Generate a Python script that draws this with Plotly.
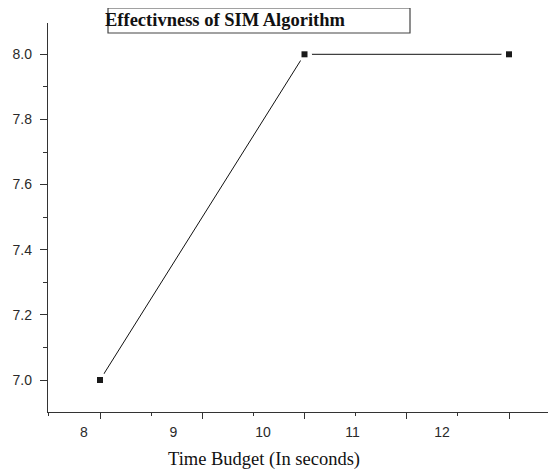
import plotly.graph_objects as go

# ---- data ----
x_vals = [8, 10, 12]
y_vals = [7.0, 8.0, 8.0]
x_tick_vals = [8, 9, 10, 11, 12]
x_tick_labels = ["8", "9", "10", "11", "12"]
title_text = "Effectivness of SIM Algorithm"
x_title = "Time Budget (In seconds)"

AX = "#333333"
TXT = "#2a2a2a"

fig = go.Figure()
fig.add_trace(go.Scatter(x=x_vals, y=y_vals, mode="lines",
                         line=dict(color="#111111", width=1),
                         hoverinfo="skip", showlegend=False))
fig.add_trace(go.Scatter(x=x_vals, y=y_vals, mode="markers",
                         marker=dict(symbol="circle", size=15, color="white"),
                         hoverinfo="skip", showlegend=False))
fig.add_trace(go.Scatter(x=x_vals, y=y_vals, mode="markers",
                         marker=dict(symbol="square", size=6, color="#1a1a1a"),
                         showlegend=False))
fig.add_trace(go.Scatter(x=[None], y=[None], xaxis="x2", yaxis="y",
                         showlegend=False, hoverinfo="skip"))

fig.update_layout(
    width=548, height=466,
    margin=dict(l=40, r=0, t=15, b=62, pad=0),
    paper_bgcolor="white", plot_bgcolor="white",
    showlegend=False,
    xaxis=dict(
        range=[7.4914, 12.4597],
        showline=True, linecolor=AX, linewidth=1.3,
        ticks="outside", tickvals=x_tick_vals, ticklen=6,
        tickcolor=AX, tickwidth=1.3,
        showticklabels=False, showgrid=False, zeroline=False,
        minor=dict(ticks="outside", dtick=0.5, tick0=8, ticklen=3,
                   tickcolor=AX, tickwidth=1.3, showgrid=False),
    ),
    xaxis2=dict(
        overlaying="x", anchor="y", side="bottom",
        range=[7.598, 13.274],
        tickvals=x_tick_vals, ticktext=x_tick_labels,
        ticks="", showline=False, showgrid=False, zeroline=False,
        ticklabelstandoff=10,
        tickfont=dict(family="Liberation Sans, Arial", size=14, color=TXT),
    ),
    yaxis=dict(
        range=[6.9018, 8.0961],
        tick0=7.0, dtick=0.2, tickformat=".1f",
        showline=True, linecolor=AX, linewidth=1.3,
        ticks="outside", ticklen=7, tickcolor=AX, tickwidth=1.3,
        showgrid=False, zeroline=False,
        ticklabelstandoff=5,
        tickfont=dict(family="Liberation Sans, Arial", size=14, color=TXT),
        minor=dict(ticks="outside", dtick=0.1, ticklen=4,
                   tickcolor=AX, tickwidth=1.3, showgrid=False),
    ),
    annotations=[
        dict(text=title_text, xref="paper", yref="paper",
             x=(103 - 48) / 508, y=1 + (23 - 20) / 389,
             xanchor="left", yanchor="middle", showarrow=False,
             font=dict(family="Liberation Serif, Times New Roman", size=18.5,
                       color="#111111", weight="bold")),
        dict(text=x_title, xref="paper", yref="paper",
             x=(264 - 48) / 508, y=-(460 - 412) / 389,
             xanchor="center", yanchor="middle", showarrow=False,
             font=dict(family="Liberation Serif, Times New Roman", size=18.5,
                       color="#111111")),
    ],
    shapes=[
        dict(type="rect", xref="paper", yref="paper",
             x0=(108 - 48) / 508, x1=(410 - 48) / 508,
             y0=1 - (33 - 23) / 389, y1=1 + (23 - 8) / 389,
             line=dict(color="#444444", width=1.2), fillcolor="rgba(0,0,0,0)",
             layer="below"),
    ],
)

fig.write_html("out.html")
